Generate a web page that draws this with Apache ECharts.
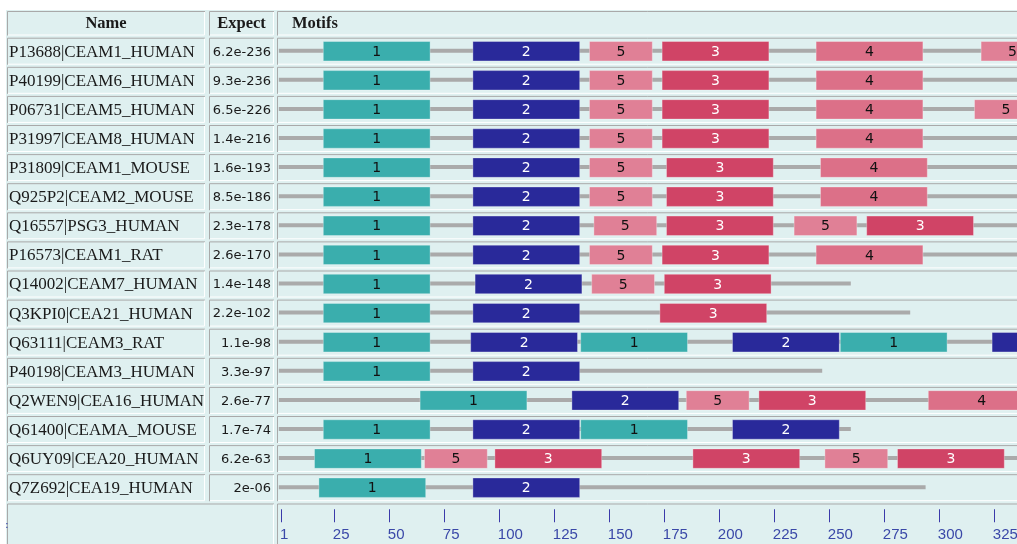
<!DOCTYPE html>
<html>
<head>
<meta charset="utf-8">
<script src="https://cdn.jsdelivr.net/npm/echarts@6/dist/echarts.min.js"></script>
<style>
  html, body { margin: 0; padding: 0; background: #ffffff; }
  #chart { width: 1017px; height: 544px; }
</style>
</head>
<body>
<div id="chart"></div>
<script>
// Sequence names and combined E-values
const names = [
  'P13688|CEAM1_HUMAN', 'P40199|CEAM6_HUMAN', 'P06731|CEAM5_HUMAN', 'P31997|CEAM8_HUMAN',
  'P31809|CEAM1_MOUSE', 'Q925P2|CEAM2_MOUSE', 'Q16557|PSG3_HUMAN', 'P16573|CEAM1_RAT',
  'Q14002|CEAM7_HUMAN', 'Q3KPI0|CEA21_HUMAN', 'Q63111|CEAM3_RAT', 'P40198|CEAM3_HUMAN',
  'Q2WEN9|CEA16_HUMAN', 'Q61400|CEAMA_MOUSE', 'Q6UY09|CEA20_HUMAN', 'Q7Z692|CEA19_HUMAN'
];
const expects = [
  '6.2e-236', '9.3e-236', '6.5e-226', '1.4e-216', '1.6e-193', '8.5e-186', '2.3e-178', '2.6e-170',
  '1.4e-148', '2.2e-102', '1.1e-98', '3.3e-97', '2.6e-77', '1.7e-74', '6.2e-63', '2e-06'
];
// Sequence lengths (residues)
const seqLengths = [360, 344, 350, 344, 346, 346, 350, 344, 260, 287, 380, 247, 350, 260, 345, 294];
// Motif widths (residues)
const motifWidths = { 1: 49, 2: 49, 3: 49, 4: 49, 5: 29 };
// Motif sites per sequence: [motif, start]
const sites = [
  [[1, 20], [2, 88], [5, 141], [3, 174], [4, 244], [5, 319]],
  [[1, 20], [2, 88], [5, 141], [3, 174], [4, 244]],
  [[1, 20], [2, 88], [5, 141], [3, 174], [4, 244], [5, 316]],
  [[1, 20], [2, 88], [5, 141], [3, 174], [4, 244]],
  [[1, 20], [2, 88], [5, 141], [3, 176], [4, 246]],
  [[1, 20], [2, 88], [5, 141], [3, 176], [4, 246]],
  [[1, 20], [2, 88], [5, 143], [3, 176], [5, 234], [3, 267]],
  [[1, 20], [2, 88], [5, 141], [3, 174], [4, 244]],
  [[1, 20], [2, 89], [5, 142], [3, 175]],
  [[1, 20], [2, 88], [3, 173]],
  [[1, 20], [2, 87], [1, 137], [2, 206], [1, 255], [2, 324]],
  [[1, 20], [2, 88]],
  [[1, 64], [2, 133], [5, 185], [3, 218], [4, 295]],
  [[1, 20], [2, 88], [1, 137], [2, 206]],
  [[1, 16], [5, 66], [3, 98], [3, 188], [5, 248], [3, 281]],
  [[1, 18], [2, 88]]
];
// Position scale tick labels
const tickValues = [1, 25, 50, 75, 100, 125, 150, 175, 200, 225, 250, 275, 300, 325];

// Styling
const motifColors = { 1: '#3aaead', 2: '#29299a', 3: '#d04466', 4: '#dc7088', 5: '#e08096' };
const motifTextColors = { 1: '#111111', 2: '#ffffff', 3: '#ffffff', 4: '#111111', 5: '#111111' };
const CELL_BG = '#dff0f0';
const BORDER_DARK = '#a9a9a9';
const BORDER_LIGHT = '#ffffff';
const W = 1017, H = 544;
const TRACK_LEFT = 278.8;
const PX_PER_RES = 2.2;
const ROW_PITCH = 29.1;
const FIRST_ROW_CENTER = 51.2;
const gridTop = FIRST_ROW_CENTER - ROW_PITCH / 2;
const gridHeight = ROW_PITCH * names.length;
const xMax = (W - TRACK_LEFT) / PX_PER_RES;

// Inset table cell: flat fill, dark top/left edge, light bottom/right edge
function cell(x, y, w, h) {
  return [
    { type: 'rect', shape: { x: x, y: y, width: w, height: h }, style: { fill: CELL_BG } },
    { type: 'polyline', shape: { points: [[x + 0.5, y + h], [x + 0.5, y + 0.5], [x + w, y + 0.5]] },
      style: { stroke: BORDER_DARK, lineWidth: 1, fill: null } },
    { type: 'polyline', shape: { points: [[x + 1, y + h - 0.5], [x + w - 0.5, y + h - 0.5], [x + w - 0.5, y + 1]] },
      style: { stroke: BORDER_LIGHT, lineWidth: 1, fill: null } }
  ];
}

const rowData = names.map((n, i) => [i]);
const lineData = seqLengths.map((len, i) => [i, len]);
const siteData = [];
sites.forEach((list, row) => list.forEach(s => siteData.push([row, s[1], s[0]])));

function renderRow(params, api) {
  const i = api.value(0);
  const cy = api.coord([0, i])[1];
  const top = cy - 13.5, h = 27;
  const children = []
    .concat(cell(7, top, 198, h))
    .concat(cell(209, top, 65, h))
    .concat(cell(277, top, W + 10 - 277, h));
  children.push({
    type: 'text',
    style: { x: 9, y: cy + 1, text: names[i], fill: '#1a1a1a',
      font: '17px "Liberation Serif", "Times New Roman", serif', align: 'left', verticalAlign: 'middle' }
  });
  children.push({
    type: 'text',
    style: { x: 271, y: cy + 1, text: expects[i], fill: '#1a1a1a',
      font: '13px "DejaVu Sans", Verdana, sans-serif', align: 'right', verticalAlign: 'middle' }
  });
  return { type: 'group', children: children };
}

function renderLine(params, api) {
  const row = api.value(0), len = api.value(1);
  const a = api.coord([0, row]), b = api.coord([len, row]);
  return { type: 'rect', shape: { x: a[0], y: a[1] - 2.5, width: b[0] - a[0], height: 4 },
    style: { fill: '#aaaaaa' } };
}

function renderSite(params, api) {
  const row = api.value(0), start = api.value(1), motif = api.value(2);
  const a = api.coord([start, row]), b = api.coord([start + motifWidths[motif], row]);
  const top = a[1] - 10.2, h = 20.4;
  return {
    type: 'group',
    children: [
      { type: 'rect', shape: { x: a[0] + 0.5, y: top + 0.5, width: b[0] - a[0] - 1, height: h - 1 },
        style: { fill: motifColors[motif], stroke: 'rgba(255,255,255,0.3)', lineWidth: 1 } },
      { type: 'text', style: { x: (a[0] + b[0]) / 2, y: a[1] + 1, text: String(motif),
          fill: motifTextColors[motif], font: '14px "DejaVu Sans", Verdana, sans-serif',
          align: 'center', verticalAlign: 'middle' } }
    ]
  };
}

// Header row and scale row
const graphics = [
  { type: 'rect', shape: { x: 6, y: 10, width: W, height: H }, style: { fill: CELL_BG }, z: -10 }
];
[[7, 198], [209, 65], [277, W + 10 - 277]].forEach(c => {
  cell(c[0], 11, c[1], 24.5).forEach(e => { e.z = -5; graphics.push(e); });
});
[[7, 267], [277, W + 10 - 277]].forEach(c => {
  cell(c[0], 503.5, c[1], 60).forEach(e => { e.z = -5; graphics.push(e); });
});
const headFont = 'bold 16.5px "Liberation Serif", "Times New Roman", serif';
graphics.push(
  { type: 'text', z: 5, style: { x: 106, y: 24, text: 'Name', font: headFont, fill: '#1a1a1a', align: 'center', verticalAlign: 'middle' } },
  { type: 'text', z: 5, style: { x: 241.5, y: 24, text: 'Expect', font: headFont, fill: '#1a1a1a', align: 'center', verticalAlign: 'middle' } },
  { type: 'text', z: 5, style: { x: 292, y: 24, text: 'Motifs', font: headFont, fill: '#1a1a1a', align: 'left', verticalAlign: 'middle' } },
  { type: 'text', z: 5, style: { x: 5, y: 525, text: ':', font: '11px "DejaVu Sans", sans-serif', fill: '#3344aa', align: 'left', verticalAlign: 'middle' } }
);

const chart = echarts.init(document.getElementById('chart'), null, { renderer: 'canvas' });
chart.setOption({
  animation: false,
  backgroundColor: '#ffffff',
  graphic: graphics,
  grid: { left: TRACK_LEFT, top: gridTop, width: W - TRACK_LEFT, height: gridHeight,
    containLabel: false, outerBoundsMode: 'none' },
  xAxis: {
    type: 'value', min: 0, max: xMax, offset: 7,
    axisLine: { show: false },
    splitLine: { show: false },
    axisTick: { show: true, length: 13, customValues: tickValues, lineStyle: { color: '#3a3aaa', width: 1 } },
    axisLabel: { show: true, customValues: tickValues, align: 'left', margin: 18, padding: [0, 0, 0, -1],
      color: '#3a48a8', fontFamily: '"Liberation Sans", Arial, sans-serif', fontSize: 15 }
  },
  yAxis: {
    type: 'category', inverse: true, data: names, show: false
  },
  series: [
    { type: 'custom', name: 'rows', data: rowData, renderItem: renderRow, z: 1, clip: false, silent: true },
    { type: 'custom', name: 'sequences', data: lineData, renderItem: renderLine, z: 2, silent: true },
    { type: 'custom', name: 'motifs', data: siteData, renderItem: renderSite, z: 3, silent: true }
  ]
});
</script>
</body>
</html>
